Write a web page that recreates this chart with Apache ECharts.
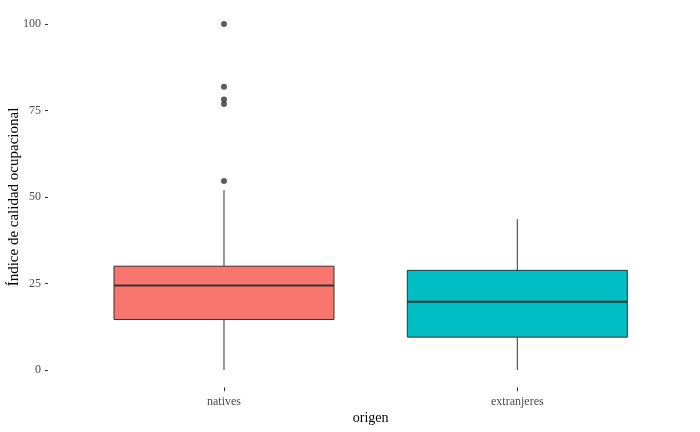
<!DOCTYPE html>
<html><head><meta charset="utf-8">
<script src="https://cdn.jsdelivr.net/npm/echarts@6/dist/echarts.min.js"></script>
<style>html,body{margin:0;padding:0;background:#fff}#c{width:700px;height:432px}</style>
</head><body><div id="c"></div>
<script>
const categories = ['natives', 'extranjeres'];
const lowerWhisker = [0, 0];
const q1 = [14.6, 9.5];
const median = [24.4, 19.7];
const q3 = [30.0, 28.8];
const upperWhisker = [52.0, 43.6];
const outlierCategory = [0, 0, 0, 0, 0];
const outlierValues = [54.6, 76.9, 78.2, 81.9, 100];
const fillColors = ['#F8766D', '#00BFC4'];
const yTicks = [0, 25, 50, 75, 100];
const xTicks = [0, 1];

const boxData = categories.map((c, i) => [i, lowerWhisker[i], q1[i], median[i], q3[i], upperWhisker[i]]);
const outlierData = outlierValues.map((v, i) => [outlierCategory[i], v]);

const chart = echarts.init(document.getElementById('c'), null, {renderer: 'canvas'});
const serif = '"Liberation Serif", "DejaVu Serif", serif';

chart.setOption({
  animation: false,
  backgroundColor: '#fff',
  grid: {left: 48, right: 6.7, top: 6.7, bottom: 44.7, containLabel: false, outerBoundsMode: 'none'},
  xAxis: {
    type: 'value',
    min: -0.6, max: 1.6,
    axisLine: {show: false, onZero: false},
    axisTick: {show: true, length: 4, customValues: xTicks, lineStyle: {color: '#333333', width: 1}},
    axisLabel: {color: '#4D4D4D', fontFamily: serif, fontSize: 12, margin: 9,
      customValues: xTicks, formatter: v => categories[Math.round(v)]},
    splitLine: {show: false},
    name: 'origen',
    nameLocation: 'middle',
    nameGap: 24,
    nameMoveOverlap: false,
    nameTextStyle: {color: '#000', fontFamily: serif, fontSize: 14}
  },
  yAxis: {
    type: 'value',
    min: -5, max: 105,
    axisLine: {show: false, onZero: false},
    axisTick: {show: true, length: 3, customValues: yTicks, lineStyle: {color: '#333333', width: 1}},
    axisLabel: {color: '#4D4D4D', fontFamily: serif, fontSize: 12, margin: 7, customValues: yTicks},
    splitLine: {show: false},
    name: 'Índice de calidad ocupacional',
    nameLocation: 'middle',
    nameGap: 26,
    nameMoveOverlap: false,
    nameTextStyle: {color: '#000', fontFamily: serif, fontSize: 15}
  },
  series: [
    {
      type: 'custom',
      data: boxData,
      encode: {x: 0, y: [1, 2, 3, 4, 5]},
      clip: false,
      renderItem: function (params, api) {
        const idx = api.value(0);
        const unit = api.size([1, 0])[0];
        const half = unit * 0.75 / 2;
        const pMin = api.coord([idx, api.value(1)]);
        const pQ1 = api.coord([idx, api.value(2)]);
        const pMed = api.coord([idx, api.value(3)]);
        const pQ3 = api.coord([idx, api.value(4)]);
        const pMax = api.coord([idx, api.value(5)]);
        const x = pMed[0];
        const stroke = '#333333';
        return {
          type: 'group',
          children: [
            {type: 'line', shape: {x1: x, y1: pQ3[1], x2: x, y2: pMax[1]}, style: {stroke: stroke, lineWidth: 1}},
            {type: 'line', shape: {x1: x, y1: pQ1[1], x2: x, y2: pMin[1]}, style: {stroke: stroke, lineWidth: 1}},
            {type: 'rect', shape: {x: x - half, y: pQ3[1], width: half * 2, height: pQ1[1] - pQ3[1]},
              style: {fill: fillColors[idx], stroke: stroke, lineWidth: 1}},
            {type: 'line', shape: {x1: x - half, y1: pMed[1], x2: x + half, y2: pMed[1]}, style: {stroke: stroke, lineWidth: 2}}
          ]
        };
      }
    },
    {
      type: 'scatter',
      data: outlierData,
      symbol: 'circle',
      symbolSize: 6,
      clip: false,
      itemStyle: {color: '#333333'}
    }
  ]
});
</script></body></html>
